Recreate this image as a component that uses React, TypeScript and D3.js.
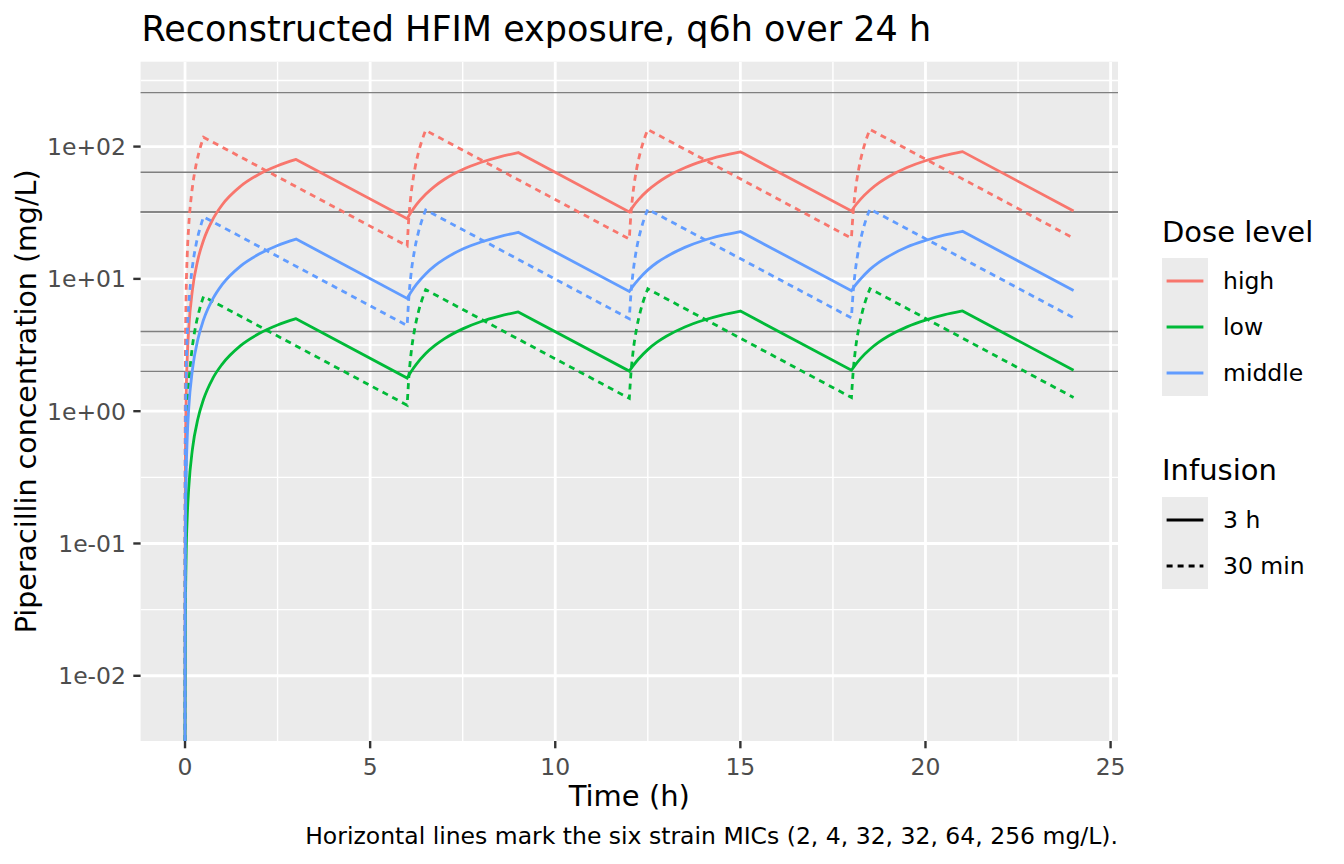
import * as d3 from 'd3';

// sampled time points (h) used by all curves of one infusion type
const timesSolid = [
  0, 0.002, 0.01, 0.03, 0.06, 0.1, 0.2, 0.35, 0.5, 0.75, 1, 1.5, 2, 2.5, 3, 6,
  6.1, 6.25, 6.5, 6.75, 7, 7.5, 8, 8.5, 9, 12,
  12.1, 12.25, 12.5, 12.75, 13, 13.5, 14, 14.5, 15, 18,
  18.1, 18.25, 18.5, 18.75, 19, 19.5, 20, 20.5, 21, 24,
];
const timesDashed = [
  0, 0.002, 0.01, 0.03, 0.06, 0.1, 0.15, 0.2, 0.3, 0.4, 0.5, 6,
  6.05, 6.1, 6.2, 6.3, 6.4, 6.5, 12,
  12.05, 12.1, 12.2, 12.3, 12.4, 12.5, 18,
  18.05, 18.1, 18.2, 18.3, 18.4, 18.5, 24,
];

// concentrations (mg/L), 3 h infusion
const highSolid = [
  0, 0.088, 0.43, 1.28, 2.54, 4.2, 8.26, 14.1, 19.6, 28.2, 36.2, 50.1, 61.8, 71.6, 80.0, 28.5,
  31.7, 36.4, 43.6, 50.3, 56.4, 67.1, 76.1, 83.7, 90.1, 32.1,
  35.2, 39.7, 46.7, 53.0, 58.9, 69.2, 77.9, 85.2, 91.4, 32.6,
  35.7, 40.1, 47.0, 53.4, 59.2, 69.5, 78.2, 85.4, 91.6, 32.6,
];
const lowSolid = [
  0, 0.0055, 0.027, 0.08, 0.159, 0.263, 0.516, 0.88, 1.23, 1.77, 2.26, 3.13, 3.86, 4.48, 5.0, 1.78,
  1.98, 2.27, 2.73, 3.14, 3.52, 4.19, 4.76, 5.23, 5.63, 2.01,
  2.2, 2.48, 2.92, 3.32, 3.68, 4.33, 4.87, 5.33, 5.71, 2.04,
  2.23, 2.51, 2.94, 3.34, 3.7, 4.34, 4.88, 5.34, 5.72, 2.04,
];
const middleSolid = [
  0, 0.022, 0.107, 0.32, 0.63, 1.05, 2.06, 3.52, 4.91, 7.06, 9.04, 12.5, 15.4, 17.9, 20.0, 7.12,
  7.93, 9.09, 10.9, 12.6, 14.1, 16.8, 19.0, 20.9, 22.5, 8.03,
  8.81, 9.92, 11.7, 13.3, 14.7, 17.3, 19.5, 21.3, 22.8, 8.14,
  8.92, 10.0, 11.8, 13.4, 14.8, 17.4, 19.5, 21.4, 22.9, 8.16,
];

// concentrations (mg/L), 30 min infusion
const highDashed = [
  0, 0.53, 2.56, 7.65, 15.2, 25.2, 37.5, 49.5, 73.1, 95.8, 117.7, 17.75,
  30.2, 42.4, 66.1, 89.1, 111.2, 132.7, 20.0,
  32.4, 44.5, 68.2, 91.1, 113.2, 134.6, 20.3,
  32.7, 44.8, 68.5, 91.4, 113.5, 134.8, 20.3,
];
const lowDashed = [
  0, 0.033, 0.16, 0.478, 0.951, 1.575, 2.34, 3.1, 4.57, 5.99, 7.36, 1.11,
  1.88, 2.65, 4.13, 5.57, 6.95, 8.29, 1.25,
  2.02, 2.78, 4.26, 5.69, 7.08, 8.41, 1.27,
  2.04, 2.8, 4.28, 5.71, 7.09, 8.43, 1.27,
];
const middleDashed = [
  0, 0.132, 0.64, 1.91, 3.8, 6.3, 9.37, 12.4, 18.3, 23.9, 29.4, 4.44,
  7.54, 10.6, 16.5, 22.3, 27.8, 33.2, 5.0,
  8.09, 11.1, 17.1, 22.8, 28.3, 33.6, 5.07,
  8.16, 11.2, 17.1, 22.8, 28.4, 33.7, 5.08,
];

const doseLevels = ['high', 'low', 'middle'];
const doseColors = ['#F8766D', '#00BA38', '#619CFF'];
const infusions = ['3 h', '30 min'];
const micValues = [2, 4, 32, 32, 64, 256];

const xBreaks = [0, 5, 10, 15, 20, 25];
const yBreaks = [0.01, 0.1, 1, 10, 100];
const yLabels = ['1e-02', '1e-01', '1e+00', '1e+01', '1e+02'];

const FONT = 'DejaVu Sans';
const W = 1344;
const H = 864;
const panel = { left: 140.6, right: 1118, top: 61.7, bottom: 741 };
const LINE_W = 2.8;
const DASH = '6,5';

const series = [
  { dose: 0, inf: 0, t: timesSolid, c: highSolid },
  { dose: 0, inf: 1, t: timesDashed, c: highDashed },
  { dose: 1, inf: 0, t: timesSolid, c: lowSolid },
  { dose: 1, inf: 1, t: timesDashed, c: lowDashed },
  { dose: 2, inf: 0, t: timesSolid, c: middleSolid },
  { dose: 2, inf: 1, t: timesDashed, c: middleDashed },
];

// split a series into monotone runs (rise / decay) so the rises can be
// drawn smooth while peaks and troughs stay sharp
function monotoneRuns(pts: [number, number][]) {
  const runs: [number, number][][] = [];
  let cur: [number, number][] = [pts[0]];
  let dir = 0;
  for (let i = 1; i < pts.length; i++) {
    const d = Math.sign(pts[i][1] - pts[i - 1][1]);
    if (dir !== 0 && d !== dir) {
      runs.push(cur);
      cur = [pts[i - 1]];
    }
    cur.push(pts[i]);
    dir = d;
  }
  runs.push(cur);
  return runs;
}

export default function App() {
  // x: data range with 5% expansion, like ggplot
  const [t0, t1] = d3.extent(timesSolid) as [number, number];
  const tPad = (t1 - t0) * 0.05;
  const x = d3
    .scaleLinear()
    .domain([t0 - tPad, t1 + tPad])
    .range([panel.left, panel.right]);

  // y: log10 range of finite values and MIC lines, expanded 5%
  const allC = series.flatMap((s) => s.c).concat(micValues).filter((v) => v > 0);
  const lMin = Math.log10(d3.min(allC) as number);
  const lMax = Math.log10(d3.max(allC) as number);
  const lPad = (lMax - lMin) * 0.05;
  const y = d3
    .scaleLog()
    .domain([10 ** (lMin - lPad), 10 ** (lMax + lPad)])
    .range([panel.bottom, panel.top]);

  const xMinor = xBreaks.slice(1).map((b, i) => (b + xBreaks[i]) / 2);
  const yMinor = [yBreaks[0] / Math.sqrt(10), ...yBreaks.map((b) => b * Math.sqrt(10))].filter(
    (v) => y(v) >= panel.top && y(v) <= panel.bottom
  );

  const line = d3
    .line<[number, number]>()
    .x((d) => x(d[0]))
    .y((d) => (d[1] > 0 ? y(d[1]) : panel.bottom))
    .curve(d3.curveMonotoneX);

  const seriesPath = (s: (typeof series)[number]) => {
    const pts = s.t.map((t, j) => [t, s.c[j]] as [number, number]);
    return monotoneRuns(pts)
      .map((run, i) => {
        const d = line(run) ?? '';
        return i === 0 ? d : d.replace(/^M[^CL]*/, '');
      })
      .join('');
  };

  const pw = panel.right - panel.left;
  const ph = panel.bottom - panel.top;
  const cx = (panel.left + panel.right) / 2;
  const cy = (panel.top + panel.bottom) / 2;

  const legendX = 1162;
  const keySize = 46;

  return (
    <svg
      width={W}
      height={H}
      style={{ position: 'fixed', left: 0, top: 0, background: '#fff' }}
      fontFamily={FONT}
    >
      <defs>
        <clipPath id="panel-clip">
          <rect x={panel.left} y={panel.top} width={pw} height={ph} />
        </clipPath>
      </defs>

      {/* panel background and grid */}
      <rect x={panel.left} y={panel.top} width={pw} height={ph} fill="#EBEBEB" />
      <g stroke="#fff" clipPath="url(#panel-clip)">
        {yMinor.map((v, i) => (
          <line key={'ym' + i} x1={panel.left} x2={panel.right} y1={y(v)} y2={y(v)} strokeWidth={LINE_W / 2} />
        ))}
        {xMinor.map((v, i) => (
          <line key={'xm' + i} x1={x(v)} x2={x(v)} y1={panel.top} y2={panel.bottom} strokeWidth={LINE_W / 2} />
        ))}
        {yBreaks.map((v, i) => (
          <line key={'yM' + i} x1={panel.left} x2={panel.right} y1={y(v)} y2={y(v)} strokeWidth={LINE_W} />
        ))}
        {xBreaks.map((v, i) => (
          <line key={'xM' + i} x1={x(v)} x2={x(v)} y1={panel.top} y2={panel.bottom} strokeWidth={LINE_W} />
        ))}
      </g>

      {/* MIC reference lines */}
      <g stroke="#7F7F7F" strokeWidth={1.4}>
        {micValues.map((m, i) => (
          <line key={'mic' + i} x1={panel.left} x2={panel.right} y1={y(m)} y2={y(m)} />
        ))}
      </g>

      {/* concentration curves */}
      <g clipPath="url(#panel-clip)" fill="none" strokeWidth={LINE_W}>
        {series.map((s, i) => (
          <path
            key={i}
            d={seriesPath(s)}
            stroke={doseColors[s.dose]}
            strokeDasharray={s.inf === 1 ? DASH : undefined}
          />
        ))}
      </g>

      {/* axes */}
      <g stroke="#333" strokeWidth={2.4}>
        {yBreaks.map((v, i) => (
          <line key={'yt' + i} x1={panel.left - 7.3} x2={panel.left} y1={y(v)} y2={y(v)} />
        ))}
        {xBreaks.map((v, i) => (
          <line key={'xt' + i} x1={x(v)} x2={x(v)} y1={panel.bottom} y2={panel.bottom + 7.3} />
        ))}
      </g>
      <g fill="#4D4D4D" fontSize={23.5}>
        {yBreaks.map((v, i) => (
          <text key={'yl' + i} x={126} y={y(v)} dy="0.36em" textAnchor="end">
            {yLabels[i]}
          </text>
        ))}
        {xBreaks.map((v, i) => (
          <text key={'xl' + i} x={x(v)} y={775} textAnchor="middle">
            {v}
          </text>
        ))}
      </g>
      <text x={cx} y={806} textAnchor="middle" fontSize={29}>
        Time (h)
      </text>
      <text
        transform={`translate(36, ${cy}) rotate(-90)`}
        textAnchor="middle"
        fontSize={28.5}
      >
        Piperacillin concentration (mg/L)
      </text>

      {/* title and caption */}
      <text x={panel.left + 1} y={41} fontSize={35}>
        Reconstructed HFIM exposure, q6h over 24 h
      </text>
      <text x={panel.right} y={844} textAnchor="end" fontSize={23.5}>
        Horizontal lines mark the six strain MICs (2, 4, 32, 32, 64, 256 mg/L).
      </text>

      {/* legend: dose level */}
      <text x={legendX} y={242} fontSize={29}>
        Dose level
      </text>
      {doseLevels.map((d, i) => {
        const ky = 258 + i * keySize;
        return (
          <g key={d}>
            <rect x={legendX} y={ky} width={keySize} height={keySize} fill="#EBEBEB" />
            <line
              x1={legendX + 4.6}
              x2={legendX + keySize - 4.6}
              y1={ky + keySize / 2}
              y2={ky + keySize / 2}
              stroke={doseColors[i]}
              strokeWidth={LINE_W}
            />
            <text x={legendX + 61} y={ky + keySize / 2} dy="0.36em" fontSize={23.5}>
              {d}
            </text>
          </g>
        );
      })}

      {/* legend: infusion */}
      <text x={legendX} y={480} fontSize={29}>
        Infusion
      </text>
      {infusions.map((d, i) => {
        const ky = 497 + i * keySize;
        return (
          <g key={d}>
            <rect x={legendX} y={ky} width={keySize} height={keySize} fill="#EBEBEB" />
            <line
              x1={legendX + 4.6}
              x2={legendX + keySize - 4.6}
              y1={ky + keySize / 2}
              y2={ky + keySize / 2}
              stroke="#000"
              strokeWidth={LINE_W}
              strokeDasharray={i === 1 ? DASH : undefined}
            />
            <text x={legendX + 61} y={ky + keySize / 2} dy="0.36em" fontSize={23.5}>
              {d}
            </text>
          </g>
        );
      })}
    </svg>
  );
}
